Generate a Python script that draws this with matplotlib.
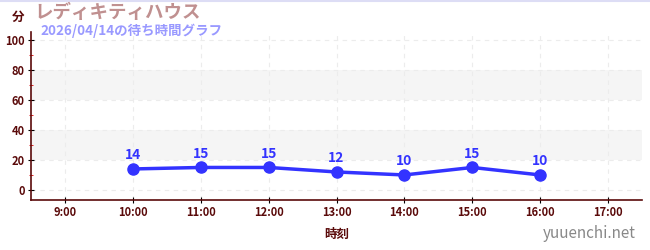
import matplotlib
matplotlib.use("Agg")
import matplotlib.pyplot as plt
from matplotlib.ticker import MultipleLocator

plt.rcParams['font.family'] = ['Noto Sans CJK JP', 'DejaVu Sans']

# データ
hours = [10, 11, 12, 13, 14, 15, 16]
wait = [14, 15, 15, 12, 10, 15, 10]
xticks = [9, 10, 11, 12, 13, 14, 15, 16, 17]
xlabels = ["9:00", "10:00", "11:00", "12:00", "13:00", "14:00", "15:00", "16:00", "17:00"]
yticks = [0, 20, 40, 60, 80, 100]
bands = [(20, 40), (60, 80)]

dark = "#5a0a0a"

fig = plt.figure(figsize=(6.5, 2.5), dpi=100)
ax = fig.add_axes([31/650, 0.2, 611/650, 0.67])

for lo, hi in bands:
    ax.axhspan(lo, hi, color="#f5f5f5", zorder=0, lw=0)

ax.plot(hours, wait, color="#3333ff", lw=2.5, marker="o", ms=8, zorder=3)
for h, w in zip(hours, wait):
    ax.annotate(str(w), (h, w), xytext=(0, 5), textcoords="offset points",
                ha="center", va="bottom", color="#3333ff", fontsize=10, fontweight="bold")

ax.set_xlim(8.5, 17.5)
ax.set_ylim(-6.7, 105)
ax.set_xticks(xticks)
ax.set_xticklabels(xlabels)
ax.set_yticks(yticks)
ax.yaxis.set_minor_locator(MultipleLocator(10))
ax.tick_params(axis="y", which="minor", length=3, color="#dd0000", direction="inout")
ax.tick_params(axis="both", which="major", length=5, color="black", direction="inout",
               labelsize=8, labelcolor=dark, pad=2)
for lbl in ax.get_xticklabels() + ax.get_yticklabels():
    lbl.set_fontweight("bold")

ax.grid(True, which="major", color="#ececec", ls=(0, (4, 4)), lw=0.8)
ax.set_axisbelow(True)
for s in ["top", "right"]:
    ax.spines[s].set_visible(False)
for s in ["left", "bottom"]:
    ax.spines[s].set_color(dark)
    ax.spines[s].set_linewidth(1.2)

ax.set_xlabel("時刻", color=dark, fontsize=9, fontweight="bold", labelpad=6)

fig.text(12/650, 1 - 17/250, "分", color=dark, fontsize=9, fontweight="bold", va="center")
fig.text(34/650, 1 - 13/250, "レディキティハウス", color="#c09090", fontsize=13.3,
         fontweight="bold", va="center")
fig.text(40/650, 1 - 31/250, "2026/04/14の待ち時間グラフ", color="#9999ff", fontsize=9.7,
         fontweight="bold", va="center")
fig.text(636/650, 1 - 233/250, "yuuenchi.net", color="#888888", fontsize=11, ha="right", va="center")
fig.add_artist(plt.Line2D([0, 1], [0.998, 0.998], color="#ddddf5", lw=1.5))

fig.savefig("out.png", dpi=100)
